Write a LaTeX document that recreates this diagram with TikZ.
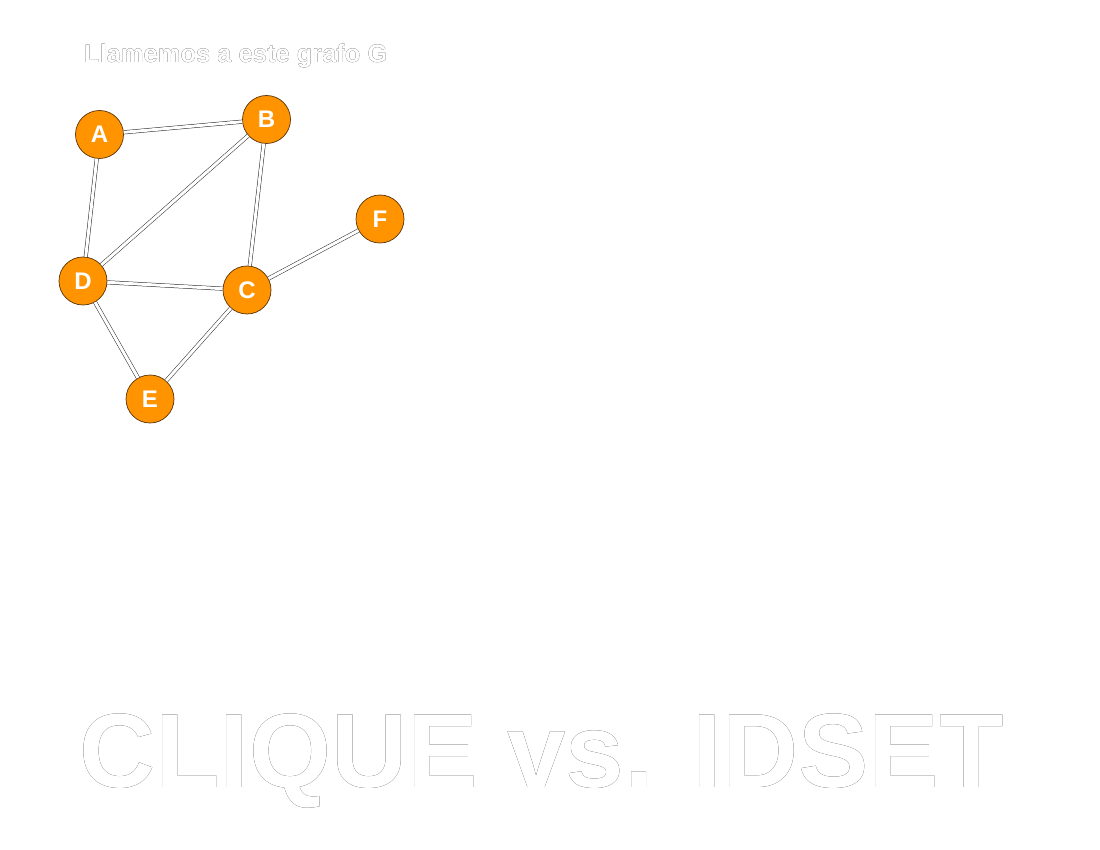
\documentclass[tikz,border=0pt]{standalone}
\usepackage{fontspec}
\setmainfont{Liberation Sans}
\usepackage{xcolor}
\usepackage[outline]{contour}
\usepackage{tikz}
\definecolor{vertexorange}{RGB}{255,148,0}
\definecolor{rimbrown}{RGB}{90,50,10}
\contourlength{0.5pt}
\newcommand{\outlined}[1]{\contour{black}{\textcolor{white}{#1}}}

\begin{document}
\begin{tikzpicture}[
      x=1pt, y=-1pt,
      vertex/.style={circle, fill=vertexorange, draw=rimbrown, line width=0.7pt,
                     minimum size=48pt, inner sep=0pt,
                     font=\fontsize{24}{24}\selectfont\bfseries, text=white},
      edge/.style={draw=black!85, line width=0.5pt, double=white,
                   double distance=3pt},
      caption/.style={anchor=base west, inner sep=0pt}
    ]
      \useasboundingbox (0,0) rectangle (1100,850);
      %% title
      \node[caption, font=\fontsize{25.5}{26}\selectfont\bfseries] (title)
          at (84, 63) {\outlined{Llamemos a este grafo G}};
      %% vertices of G
      \node[vertex] (A) at (99.5, 134.5) {A};
      \node[vertex] (B) at (266.5, 119.5) {B};
      \node[vertex] (F) at (380, 219) {F};
      \node[vertex] (D) at (83, 281) {D};
      \node[vertex] (C) at (247, 290) {C};
      \node[vertex] (E) at (150, 399) {E};
      %% edges
      \draw[edge] (A) -- (B);
      \draw[edge] (A) -- (D);
      \draw[edge] (B) -- (D);
      \draw[edge] (B) -- (C);
      \draw[edge] (D) -- (C);
      \draw[edge] (C) -- (F);
      \draw[edge] (D) -- (E);
      \draw[edge] (E) -- (C);
      %% big heading
      \node[caption, font=\fontsize{105.5}{110}\selectfont\bfseries] (heading)
          at (79, 787) {\outlined{CLIQUE vs. IDSET}};
    \end{tikzpicture}
\end{document}
